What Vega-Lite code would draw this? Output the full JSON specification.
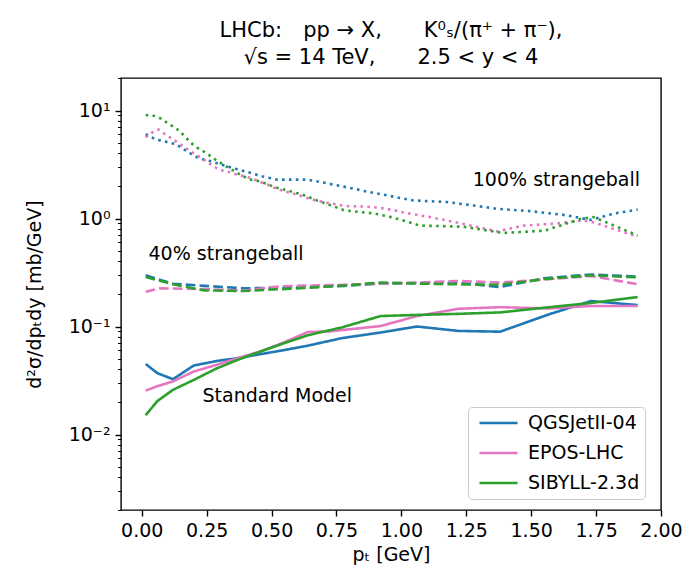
{
  "$schema": "https://vega.github.io/schema/vega-lite/v6.json",
  "width": 540,
  "height": 432,
  "autosize": {"type": "none"},
  "padding": {"left": 121, "top": 78, "right": 21, "bottom": 55},
  "config": {
    "font": "DejaVu Sans",
    "view": {"stroke": "black", "strokeWidth": 1.4},
    "axis": {"labelColor": "black", "titleColor": "black", "tickColor": "black", "labelFont": "DejaVu Sans", "titleFont": "DejaVu Sans", "titleFontWeight": "normal", "grid": false, "domain": false}
  },
  "title": {
    "text": ["LHCb:\u2003pp → X,\u2003\u2003K⁰ₛ/(π⁺ + π⁻),", "√s = 14 TeV,\u2003\u20032.5 < y < 4"],
    "fontSize": 21,
    "fontWeight": "normal",
    "font": "DejaVu Sans",
    "anchor": "middle",
    "offset": 1,
    "lineHeight": 27,
    "color": "black"
  },
  "datasets": {
    "curves": [
      {"model": "QGSJetII-04", "scen": "SM", "x": 0.015, "y": 0.045},
      {"model": "QGSJetII-04", "scen": "SM", "x": 0.06, "y": 0.037},
      {"model": "QGSJetII-04", "scen": "SM", "x": 0.12, "y": 0.0325},
      {"model": "QGSJetII-04", "scen": "SM", "x": 0.2, "y": 0.0435},
      {"model": "QGSJetII-04", "scen": "SM", "x": 0.29, "y": 0.048},
      {"model": "QGSJetII-04", "scen": "SM", "x": 0.37, "y": 0.051},
      {"model": "QGSJetII-04", "scen": "SM", "x": 0.46, "y": 0.0556},
      {"model": "QGSJetII-04", "scen": "SM", "x": 0.54, "y": 0.06},
      {"model": "QGSJetII-04", "scen": "SM", "x": 0.64, "y": 0.0665},
      {"model": "QGSJetII-04", "scen": "SM", "x": 0.77, "y": 0.078},
      {"model": "QGSJetII-04", "scen": "SM", "x": 0.92, "y": 0.088},
      {"model": "QGSJetII-04", "scen": "SM", "x": 1.06, "y": 0.1},
      {"model": "QGSJetII-04", "scen": "SM", "x": 1.22, "y": 0.091},
      {"model": "QGSJetII-04", "scen": "SM", "x": 1.38, "y": 0.0895},
      {"model": "QGSJetII-04", "scen": "SM", "x": 1.57, "y": 0.13},
      {"model": "QGSJetII-04", "scen": "SM", "x": 1.73, "y": 0.172},
      {"model": "QGSJetII-04", "scen": "SM", "x": 1.91, "y": 0.158},

      {"model": "EPOS-LHC", "scen": "SM", "x": 0.015, "y": 0.0255},
      {"model": "EPOS-LHC", "scen": "SM", "x": 0.06, "y": 0.028},
      {"model": "EPOS-LHC", "scen": "SM", "x": 0.12, "y": 0.031},
      {"model": "EPOS-LHC", "scen": "SM", "x": 0.2, "y": 0.0383},
      {"model": "EPOS-LHC", "scen": "SM", "x": 0.29, "y": 0.0443},
      {"model": "EPOS-LHC", "scen": "SM", "x": 0.37, "y": 0.051},
      {"model": "EPOS-LHC", "scen": "SM", "x": 0.46, "y": 0.059},
      {"model": "EPOS-LHC", "scen": "SM", "x": 0.54, "y": 0.07},
      {"model": "EPOS-LHC", "scen": "SM", "x": 0.64, "y": 0.089},
      {"model": "EPOS-LHC", "scen": "SM", "x": 0.72, "y": 0.09},
      {"model": "EPOS-LHC", "scen": "SM", "x": 0.92, "y": 0.101},
      {"model": "EPOS-LHC", "scen": "SM", "x": 1.06, "y": 0.125},
      {"model": "EPOS-LHC", "scen": "SM", "x": 1.22, "y": 0.146},
      {"model": "EPOS-LHC", "scen": "SM", "x": 1.38, "y": 0.151},
      {"model": "EPOS-LHC", "scen": "SM", "x": 1.57, "y": 0.147},
      {"model": "EPOS-LHC", "scen": "SM", "x": 1.73, "y": 0.155},
      {"model": "EPOS-LHC", "scen": "SM", "x": 1.91, "y": 0.155},

      {"model": "SIBYLL-2.3d", "scen": "SM", "x": 0.015, "y": 0.0151},
      {"model": "SIBYLL-2.3d", "scen": "SM", "x": 0.06, "y": 0.0204},
      {"model": "SIBYLL-2.3d", "scen": "SM", "x": 0.12, "y": 0.0259},
      {"model": "SIBYLL-2.3d", "scen": "SM", "x": 0.2, "y": 0.032},
      {"model": "SIBYLL-2.3d", "scen": "SM", "x": 0.29, "y": 0.0411},
      {"model": "SIBYLL-2.3d", "scen": "SM", "x": 0.37, "y": 0.0492},
      {"model": "SIBYLL-2.3d", "scen": "SM", "x": 0.46, "y": 0.059},
      {"model": "SIBYLL-2.3d", "scen": "SM", "x": 0.54, "y": 0.069},
      {"model": "SIBYLL-2.3d", "scen": "SM", "x": 0.64, "y": 0.083},
      {"model": "SIBYLL-2.3d", "scen": "SM", "x": 0.77, "y": 0.098},
      {"model": "SIBYLL-2.3d", "scen": "SM", "x": 0.92, "y": 0.125},
      {"model": "SIBYLL-2.3d", "scen": "SM", "x": 1.06, "y": 0.128},
      {"model": "SIBYLL-2.3d", "scen": "SM", "x": 1.22, "y": 0.131},
      {"model": "SIBYLL-2.3d", "scen": "SM", "x": 1.38, "y": 0.135},
      {"model": "SIBYLL-2.3d", "scen": "SM", "x": 1.57, "y": 0.151},
      {"model": "SIBYLL-2.3d", "scen": "SM", "x": 1.73, "y": 0.165},
      {"model": "SIBYLL-2.3d", "scen": "SM", "x": 1.91, "y": 0.1875},

      {"model": "QGSJetII-04", "scen": "40", "x": 0.015, "y": 0.298},
      {"model": "QGSJetII-04", "scen": "40", "x": 0.12, "y": 0.249},
      {"model": "QGSJetII-04", "scen": "40", "x": 0.24, "y": 0.238},
      {"model": "QGSJetII-04", "scen": "40", "x": 0.39, "y": 0.226},
      {"model": "QGSJetII-04", "scen": "40", "x": 0.54, "y": 0.228},
      {"model": "QGSJetII-04", "scen": "40", "x": 0.65, "y": 0.232},
      {"model": "QGSJetII-04", "scen": "40", "x": 0.78, "y": 0.238},
      {"model": "QGSJetII-04", "scen": "40", "x": 0.92, "y": 0.25},
      {"model": "QGSJetII-04", "scen": "40", "x": 1.06, "y": 0.252},
      {"model": "QGSJetII-04", "scen": "40", "x": 1.22, "y": 0.255},
      {"model": "QGSJetII-04", "scen": "40", "x": 1.38, "y": 0.232},
      {"model": "QGSJetII-04", "scen": "40", "x": 1.55, "y": 0.28},
      {"model": "QGSJetII-04", "scen": "40", "x": 1.73, "y": 0.303},
      {"model": "QGSJetII-04", "scen": "40", "x": 1.91, "y": 0.29},

      {"model": "EPOS-LHC", "scen": "40", "x": 0.015, "y": 0.21},
      {"model": "EPOS-LHC", "scen": "40", "x": 0.07, "y": 0.226},
      {"model": "EPOS-LHC", "scen": "40", "x": 0.24, "y": 0.222},
      {"model": "EPOS-LHC", "scen": "40", "x": 0.39, "y": 0.215},
      {"model": "EPOS-LHC", "scen": "40", "x": 0.54, "y": 0.236},
      {"model": "EPOS-LHC", "scen": "40", "x": 0.65, "y": 0.24},
      {"model": "EPOS-LHC", "scen": "40", "x": 0.78, "y": 0.243},
      {"model": "EPOS-LHC", "scen": "40", "x": 0.92, "y": 0.25},
      {"model": "EPOS-LHC", "scen": "40", "x": 1.06, "y": 0.255},
      {"model": "EPOS-LHC", "scen": "40", "x": 1.22, "y": 0.264},
      {"model": "EPOS-LHC", "scen": "40", "x": 1.38, "y": 0.255},
      {"model": "EPOS-LHC", "scen": "40", "x": 1.55, "y": 0.272},
      {"model": "EPOS-LHC", "scen": "40", "x": 1.73, "y": 0.294},
      {"model": "EPOS-LHC", "scen": "40", "x": 1.91, "y": 0.246},

      {"model": "SIBYLL-2.3d", "scen": "40", "x": 0.015, "y": 0.288},
      {"model": "SIBYLL-2.3d", "scen": "40", "x": 0.12, "y": 0.246},
      {"model": "SIBYLL-2.3d", "scen": "40", "x": 0.24, "y": 0.216},
      {"model": "SIBYLL-2.3d", "scen": "40", "x": 0.39, "y": 0.213},
      {"model": "SIBYLL-2.3d", "scen": "40", "x": 0.54, "y": 0.222},
      {"model": "SIBYLL-2.3d", "scen": "40", "x": 0.65, "y": 0.229},
      {"model": "SIBYLL-2.3d", "scen": "40", "x": 0.78, "y": 0.24},
      {"model": "SIBYLL-2.3d", "scen": "40", "x": 0.92, "y": 0.255},
      {"model": "SIBYLL-2.3d", "scen": "40", "x": 1.06, "y": 0.25},
      {"model": "SIBYLL-2.3d", "scen": "40", "x": 1.22, "y": 0.246},
      {"model": "SIBYLL-2.3d", "scen": "40", "x": 1.38, "y": 0.243},
      {"model": "SIBYLL-2.3d", "scen": "40", "x": 1.55, "y": 0.275},
      {"model": "SIBYLL-2.3d", "scen": "40", "x": 1.73, "y": 0.298},
      {"model": "SIBYLL-2.3d", "scen": "40", "x": 1.91, "y": 0.285},

      {"model": "QGSJetII-04", "scen": "100", "x": 0.015, "y": 6.03},
      {"model": "QGSJetII-04", "scen": "100", "x": 0.046, "y": 5.53},
      {"model": "QGSJetII-04", "scen": "100", "x": 0.074, "y": 5.25},
      {"model": "QGSJetII-04", "scen": "100", "x": 0.103, "y": 5.07},
      {"model": "QGSJetII-04", "scen": "100", "x": 0.132, "y": 4.86},
      {"model": "QGSJetII-04", "scen": "100", "x": 0.156, "y": 4.47},
      {"model": "QGSJetII-04", "scen": "100", "x": 0.18, "y": 4.1},
      {"model": "QGSJetII-04", "scen": "100", "x": 0.21, "y": 3.73},
      {"model": "QGSJetII-04", "scen": "100", "x": 0.238, "y": 3.52},
      {"model": "QGSJetII-04", "scen": "100", "x": 0.264, "y": 3.4},
      {"model": "QGSJetII-04", "scen": "100", "x": 0.292, "y": 3.23},
      {"model": "QGSJetII-04", "scen": "100", "x": 0.35, "y": 2.94},
      {"model": "QGSJetII-04", "scen": "100", "x": 0.405, "y": 2.7},
      {"model": "QGSJetII-04", "scen": "100", "x": 0.463, "y": 2.46},
      {"model": "QGSJetII-04", "scen": "100", "x": 0.521, "y": 2.29},
      {"model": "QGSJetII-04", "scen": "100", "x": 0.64, "y": 2.29},
      {"model": "QGSJetII-04", "scen": "100", "x": 0.7, "y": 2.15},
      {"model": "QGSJetII-04", "scen": "100", "x": 0.756, "y": 2.02},
      {"model": "QGSJetII-04", "scen": "100", "x": 0.816, "y": 1.89},
      {"model": "QGSJetII-04", "scen": "100", "x": 0.874, "y": 1.76},
      {"model": "QGSJetII-04", "scen": "100", "x": 0.932, "y": 1.66},
      {"model": "QGSJetII-04", "scen": "100", "x": 0.989, "y": 1.56},
      {"model": "QGSJetII-04", "scen": "100", "x": 1.047, "y": 1.47},
      {"model": "QGSJetII-04", "scen": "100", "x": 1.176, "y": 1.42},
      {"model": "QGSJetII-04", "scen": "100", "x": 1.278, "y": 1.32},
      {"model": "QGSJetII-04", "scen": "100", "x": 1.368, "y": 1.23},
      {"model": "QGSJetII-04", "scen": "100", "x": 1.497, "y": 1.17},
      {"model": "QGSJetII-04", "scen": "100", "x": 1.637, "y": 1.07},
      {"model": "QGSJetII-04", "scen": "100", "x": 1.728, "y": 0.97},
      {"model": "QGSJetII-04", "scen": "100", "x": 1.818, "y": 1.11},
      {"model": "QGSJetII-04", "scen": "100", "x": 1.91, "y": 1.21},

      {"model": "EPOS-LHC", "scen": "100", "x": 0.015, "y": 5.65},
      {"model": "EPOS-LHC", "scen": "100", "x": 0.042, "y": 6.3},
      {"model": "EPOS-LHC", "scen": "100", "x": 0.065, "y": 6.66},
      {"model": "EPOS-LHC", "scen": "100", "x": 0.088, "y": 6.07},
      {"model": "EPOS-LHC", "scen": "100", "x": 0.114, "y": 5.53},
      {"model": "EPOS-LHC", "scen": "100", "x": 0.138, "y": 5.07},
      {"model": "EPOS-LHC", "scen": "100", "x": 0.161, "y": 4.62},
      {"model": "EPOS-LHC", "scen": "100", "x": 0.187, "y": 4.21},
      {"model": "EPOS-LHC", "scen": "100", "x": 0.213, "y": 3.84},
      {"model": "EPOS-LHC", "scen": "100", "x": 0.236, "y": 3.55},
      {"model": "EPOS-LHC", "scen": "100", "x": 0.261, "y": 3.23},
      {"model": "EPOS-LHC", "scen": "100", "x": 0.287, "y": 2.94},
      {"model": "EPOS-LHC", "scen": "100", "x": 0.315, "y": 2.76},
      {"model": "EPOS-LHC", "scen": "100", "x": 0.344, "y": 2.67},
      {"model": "EPOS-LHC", "scen": "100", "x": 0.373, "y": 2.51},
      {"model": "EPOS-LHC", "scen": "100", "x": 0.401, "y": 2.46},
      {"model": "EPOS-LHC", "scen": "100", "x": 0.431, "y": 2.31},
      {"model": "EPOS-LHC", "scen": "100", "x": 0.457, "y": 2.18},
      {"model": "EPOS-LHC", "scen": "100", "x": 0.482, "y": 2.07},
      {"model": "EPOS-LHC", "scen": "100", "x": 0.51, "y": 1.93},
      {"model": "EPOS-LHC", "scen": "100", "x": 0.54, "y": 1.82},
      {"model": "EPOS-LHC", "scen": "100", "x": 0.598, "y": 1.66},
      {"model": "EPOS-LHC", "scen": "100", "x": 0.656, "y": 1.5},
      {"model": "EPOS-LHC", "scen": "100", "x": 0.714, "y": 1.4},
      {"model": "EPOS-LHC", "scen": "100", "x": 0.771, "y": 1.32},
      {"model": "EPOS-LHC", "scen": "100", "x": 0.8, "y": 1.3},
      {"model": "EPOS-LHC", "scen": "100", "x": 0.858, "y": 1.29},
      {"model": "EPOS-LHC", "scen": "100", "x": 0.916, "y": 1.26},
      {"model": "EPOS-LHC", "scen": "100", "x": 0.974, "y": 1.19},
      {"model": "EPOS-LHC", "scen": "100", "x": 1.022, "y": 1.12},
      {"model": "EPOS-LHC", "scen": "100", "x": 1.111, "y": 1.03},
      {"model": "EPOS-LHC", "scen": "100", "x": 1.24, "y": 0.89},
      {"model": "EPOS-LHC", "scen": "100", "x": 1.368, "y": 0.76},
      {"model": "EPOS-LHC", "scen": "100", "x": 1.471, "y": 0.86},
      {"model": "EPOS-LHC", "scen": "100", "x": 1.6, "y": 0.9},
      {"model": "EPOS-LHC", "scen": "100", "x": 1.702, "y": 0.96},
      {"model": "EPOS-LHC", "scen": "100", "x": 1.741, "y": 0.92},
      {"model": "EPOS-LHC", "scen": "100", "x": 1.818, "y": 0.8},
      {"model": "EPOS-LHC", "scen": "100", "x": 1.91, "y": 0.68},

      {"model": "SIBYLL-2.3d", "scen": "100", "x": 0.015, "y": 9.1},
      {"model": "SIBYLL-2.3d", "scen": "100", "x": 0.05, "y": 8.9},
      {"model": "SIBYLL-2.3d", "scen": "100", "x": 0.08, "y": 8.3},
      {"model": "SIBYLL-2.3d", "scen": "100", "x": 0.1, "y": 7.6},
      {"model": "SIBYLL-2.3d", "scen": "100", "x": 0.13, "y": 6.9},
      {"model": "SIBYLL-2.3d", "scen": "100", "x": 0.15, "y": 6.3},
      {"model": "SIBYLL-2.3d", "scen": "100", "x": 0.17, "y": 5.6},
      {"model": "SIBYLL-2.3d", "scen": "100", "x": 0.19, "y": 5.0},
      {"model": "SIBYLL-2.3d", "scen": "100", "x": 0.215, "y": 4.5},
      {"model": "SIBYLL-2.3d", "scen": "100", "x": 0.24, "y": 4.15},
      {"model": "SIBYLL-2.3d", "scen": "100", "x": 0.265, "y": 3.78},
      {"model": "SIBYLL-2.3d", "scen": "100", "x": 0.29, "y": 3.42},
      {"model": "SIBYLL-2.3d", "scen": "100", "x": 0.34, "y": 2.9},
      {"model": "SIBYLL-2.3d", "scen": "100", "x": 0.39, "y": 2.46},
      {"model": "SIBYLL-2.3d", "scen": "100", "x": 0.42, "y": 2.29},
      {"model": "SIBYLL-2.3d", "scen": "100", "x": 0.45, "y": 2.22},
      {"model": "SIBYLL-2.3d", "scen": "100", "x": 0.48, "y": 2.1},
      {"model": "SIBYLL-2.3d", "scen": "100", "x": 0.51, "y": 1.96},
      {"model": "SIBYLL-2.3d", "scen": "100", "x": 0.56, "y": 1.82},
      {"model": "SIBYLL-2.3d", "scen": "100", "x": 0.62, "y": 1.66},
      {"model": "SIBYLL-2.3d", "scen": "100", "x": 0.675, "y": 1.47},
      {"model": "SIBYLL-2.3d", "scen": "100", "x": 0.73, "y": 1.32},
      {"model": "SIBYLL-2.3d", "scen": "100", "x": 0.78, "y": 1.19},
      {"model": "SIBYLL-2.3d", "scen": "100", "x": 0.84, "y": 1.15},
      {"model": "SIBYLL-2.3d", "scen": "100", "x": 0.9, "y": 1.11},
      {"model": "SIBYLL-2.3d", "scen": "100", "x": 0.96, "y": 1.03},
      {"model": "SIBYLL-2.3d", "scen": "100", "x": 1.0, "y": 0.97},
      {"model": "SIBYLL-2.3d", "scen": "100", "x": 1.07, "y": 0.86},
      {"model": "SIBYLL-2.3d", "scen": "100", "x": 1.24, "y": 0.84},
      {"model": "SIBYLL-2.3d", "scen": "100", "x": 1.39, "y": 0.735},
      {"model": "SIBYLL-2.3d", "scen": "100", "x": 1.55, "y": 0.77},
      {"model": "SIBYLL-2.3d", "scen": "100", "x": 1.69, "y": 0.99},
      {"model": "SIBYLL-2.3d", "scen": "100", "x": 1.74, "y": 1.03},
      {"model": "SIBYLL-2.3d", "scen": "100", "x": 1.82, "y": 0.86},
      {"model": "SIBYLL-2.3d", "scen": "100", "x": 1.91, "y": 0.695}
    ],
    "labels": [
      {"label": "100% strangeball", "x": 1.275, "y": 2.0},
      {"label": "40% strangeball", "x": 0.026, "y": 0.415},
      {"label": "Standard Model", "x": 0.234, "y": 0.0198}
    ]
  },
  "encoding": {
    "x": {
      "field": "x",
      "type": "quantitative",
      "scale": {"domain": [-0.08, 2.0], "nice": false, "zero": false},
      "axis": {
        "title": "pₜ [GeV]",
        "titleFontSize": 19,
        "titlePadding": 5,
        "values": [0, 0.25, 0.5, 0.75, 1, 1.25, 1.5, 1.75, 2],
        "format": ".2f",
        "labelFontSize": 19,
        "labelPadding": 5,
        "tickSize": 6,
        "tickWidth": 1.4,
        "labelOverlap": false,
        "labelFlush": false
      }
    },
    "y": {
      "field": "y",
      "type": "quantitative",
      "scale": {"type": "log", "domain": [0.002, 20], "nice": false},
      "axis": {
        "title": "d²σ/dpₜdy [mb/GeV]",
        "titleFontSize": 19,
        "titlePadding": 24,
        "values": [0.002, 0.003, 0.004, 0.005, 0.006, 0.007, 0.008, 0.009, 0.01, 0.02, 0.03, 0.04, 0.05, 0.06, 0.07, 0.08, 0.09, 0.1, 0.2, 0.3, 0.4, 0.5, 0.6, 0.7, 0.8, 0.9, 1, 2, 3, 4, 5, 6, 7, 8, 9, 10, 20],
        "labelExpr": "datum.value == 10 ? '10¹' : datum.value == 1 ? '10⁰' : datum.value == 0.1 ? '10⁻¹' : datum.value == 0.01 ? '10⁻²' : ''",
        "labelFontSize": 19,
        "labelPadding": 5,
        "labelOverlap": false,
        "labelFlush": false,
        "tickSize": {"condition": {"test": "indexof([0.01, 0.1, 1, 10], datum.value) >= 0", "value": 6}, "value": 3.5},
        "tickWidth": {"condition": {"test": "indexof([0.01, 0.1, 1, 10], datum.value) >= 0", "value": 1.4}, "value": 1}
      }
    }
  },
  "layer": [
    {
      "data": {"name": "curves"},
      "mark": {"type": "line", "strokeWidth": 2.6, "strokeCap": "butt"},
      "encoding": {
        "color": {
          "field": "model",
          "type": "nominal",
          "scale": {"domain": ["QGSJetII-04", "EPOS-LHC", "SIBYLL-2.3d"], "range": ["#1f77b4", "#e377c2", "#2ca02c"]},
          "legend": {
            "orient": "none",
            "legendX": 347,
            "legendY": 329,
            "title": null,
            "fillColor": "rgba(255,255,255,0.8)",
            "strokeColor": "#cccccc",
            "cornerRadius": 4,
            "padding": 5,
            "labelFontSize": 19,
            "labelFont": "DejaVu Sans",
            "labelColor": "black",
            "symbolType": "stroke",
            "symbolStrokeWidth": 2.6,
            "symbolSize": 1444,
            "symbolOffset": 5,
            "labelOffset": 9,
            "clipHeight": 22,
            "rowPadding": 8
          }
        },
        "strokeDash": {
          "field": "scen",
          "type": "nominal",
          "scale": {"domain": ["SM", "40", "100"], "range": [[1, 0], [9.6, 4.2], [2.6, 4.3]]},
          "legend": null
        }
      }
    },
    {
      "data": {"name": "labels"},
      "mark": {"type": "text", "align": "left", "baseline": "alphabetic", "fontSize": 19, "font": "DejaVu Sans", "color": "black"},
      "encoding": {
        "text": {"field": "label", "type": "nominal"}
      }
    }
  ]
}
